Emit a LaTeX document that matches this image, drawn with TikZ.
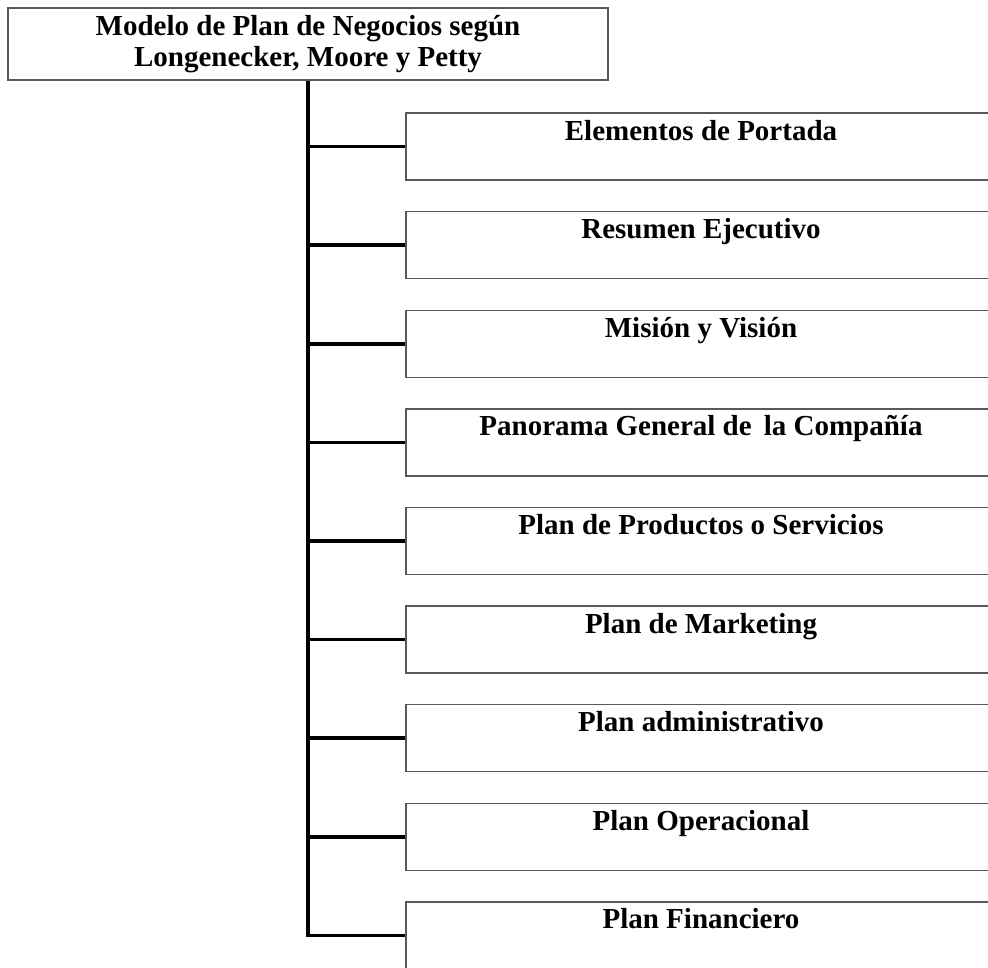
\documentclass[tikz,border=0pt]{standalone}
\usepackage{fontspec}
\setmainfont{Liberation Serif}
\begin{document}
\begin{tikzpicture}[x=1pt,y=-1pt,
  rootbox/.style={draw=black!65, line width=1.4pt, fill=white, inner sep=0pt,
    minimum width=600pt, minimum height=72pt, align=center,
    font=\fontsize{29}{31}\selectfont\bfseries},
  childbox/.style={draw=black!65, line width=1.4pt, fill=white, inner xsep=0pt, inner ysep=0pt,
    minimum width=590pt, text height=27pt, text depth=40pt,
    font=\fontsize{29}{31}\selectfont\bfseries},
  conn/.style={line width=3.6pt, black}]
\useasboundingbox (0,0) rectangle (988,967);
\clip (0,0) rectangle (988,967);
\node[rootbox] (root) at (308,44) {Modelo de Plan de Negocios según\\Longenecker, Moore y Petty};
\node[childbox] (c1) at (701,146.5) {Elementos de Portada};
\node[childbox] (c2) at (701,245.1) {Resumen Ejecutivo};
\node[childbox] (c3) at (701,343.7) {Misión y Visión};
\node[childbox] (c4) at (701,442.3) {Panorama General de\, la Compañía};
\node[childbox] (c5) at (701,540.9) {Plan de Productos o Servicios};
\node[childbox] (c6) at (701,639.5) {Plan de Marketing};
\node[childbox] (c7) at (701,738.1) {Plan administrativo};
\node[childbox] (c8) at (701,836.7) {Plan Operacional};
\node[childbox] (c9) at (701,935.3) {Plan Financiero};
\draw[conn] (root.south) |- (c9.west);
\foreach \c in {c1,c2,c3,c4,c5,c6,c7,c8}
  \draw[conn] (root.south |- \c.west) -- (\c.west);
\end{tikzpicture}
\end{document}
